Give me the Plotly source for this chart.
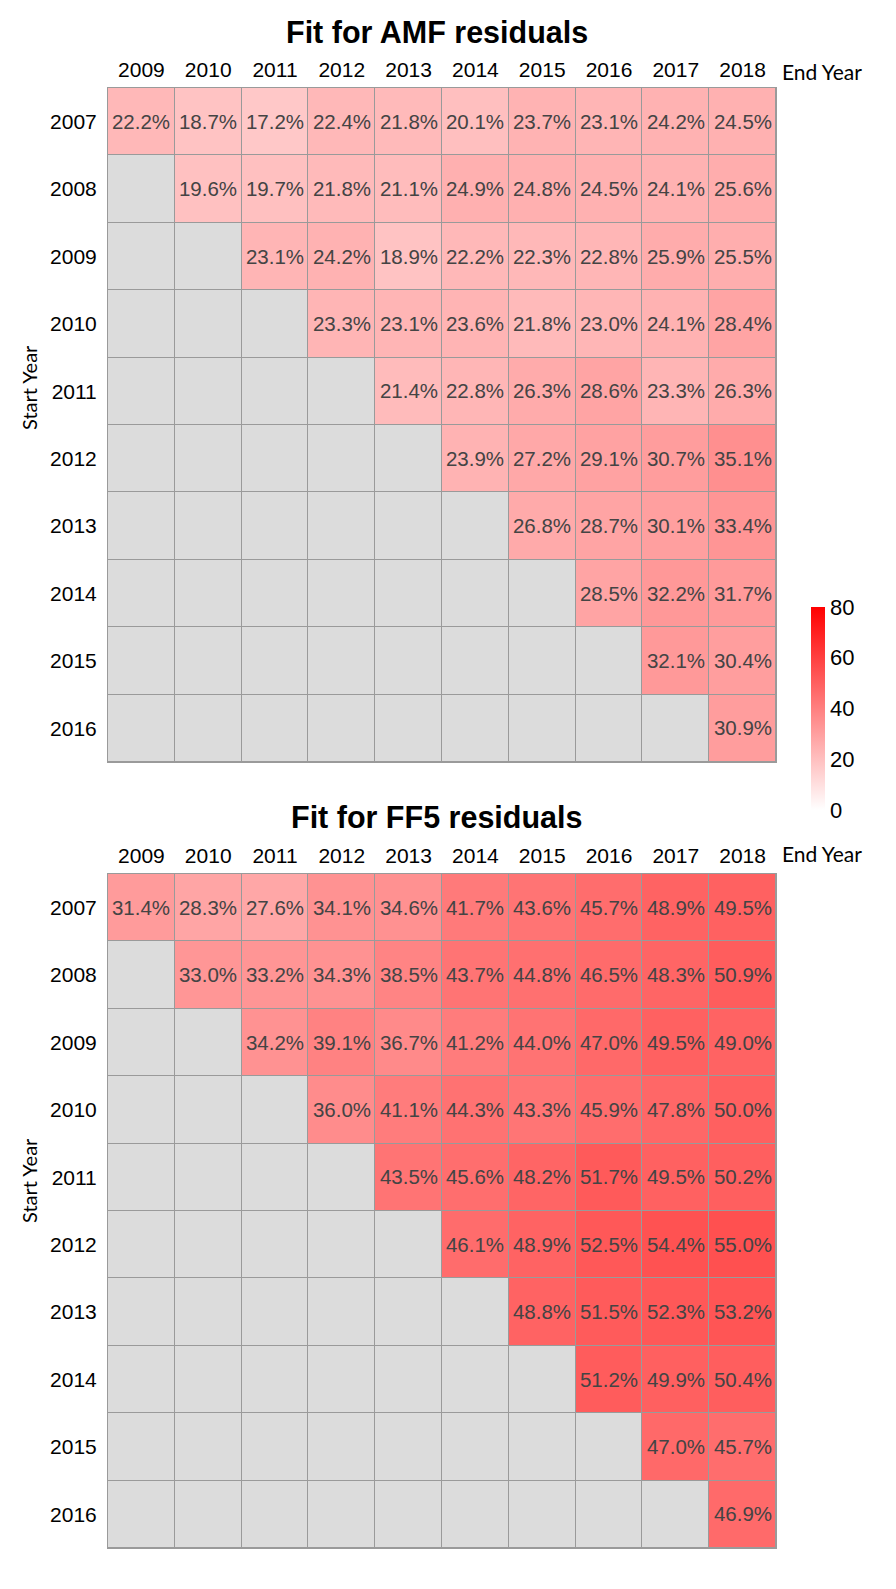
import plotly.graph_objects as go

end_years = ["2009", "2010", "2011", "2012", "2013", "2014", "2015", "2016", "2017", "2018"]
start_years = ["2007", "2008", "2009", "2010", "2011", "2012", "2013", "2014", "2015", "2016"]

N = None
amf_values = [
    [22.2, 18.7, 17.2, 22.4, 21.8, 20.1, 23.7, 23.1, 24.2, 24.5],
    [N, 19.6, 19.7, 21.8, 21.1, 24.9, 24.8, 24.5, 24.1, 25.6],
    [N, N, 23.1, 24.2, 18.9, 22.2, 22.3, 22.8, 25.9, 25.5],
    [N, N, N, 23.3, 23.1, 23.6, 21.8, 23.0, 24.1, 28.4],
    [N, N, N, N, 21.4, 22.8, 26.3, 28.6, 23.3, 26.3],
    [N, N, N, N, N, 23.9, 27.2, 29.1, 30.7, 35.1],
    [N, N, N, N, N, N, 26.8, 28.7, 30.1, 33.4],
    [N, N, N, N, N, N, N, 28.5, 32.2, 31.7],
    [N, N, N, N, N, N, N, N, 32.1, 30.4],
    [N, N, N, N, N, N, N, N, N, 30.9],
]

ff5_values = [
    [31.4, 28.3, 27.6, 34.1, 34.6, 41.7, 43.6, 45.7, 48.9, 49.5],
    [N, 33.0, 33.2, 34.3, 38.5, 43.7, 44.8, 46.5, 48.3, 50.9],
    [N, N, 34.2, 39.1, 36.7, 41.2, 44.0, 47.0, 49.5, 49.0],
    [N, N, N, 36.0, 41.1, 44.3, 43.3, 45.9, 47.8, 50.0],
    [N, N, N, N, 43.5, 45.6, 48.2, 51.7, 49.5, 50.2],
    [N, N, N, N, N, 46.1, 48.9, 52.5, 54.4, 55.0],
    [N, N, N, N, N, N, 48.8, 51.5, 52.3, 53.2],
    [N, N, N, N, N, N, N, 51.2, 49.9, 50.4],
    [N, N, N, N, N, N, N, N, 47.0, 45.7],
    [N, N, N, N, N, N, N, N, N, 46.9],
]

colorbar_ticks = [0, 20, 40, 60, 80]
titles = ["Fit for AMF residuals", "Fit for FF5 residuals"]

W, H = 896, 1589
FONT = "Liberation Sans"
LABEL_FONT = "Lato"
GRID_COLOR = "#9a9a9a"
EMPTY_COLOR = "#dcdcdc"

fig = go.Figure()


def px_x(p):
    return p / W


def px_y(p):
    return 1 - p / H


panels = [
    dict(values=amf_values, xa="x", ya="y", top=88, bottom=762, tick_y=71, sy=388, title_y=32),
    dict(values=ff5_values, xa="x2", ya="y2", top=874, bottom=1548, tick_y=854, sy=1181, title_y=817),
]

for i, p in enumerate(panels):
    vals = p["values"]
    mask = [[1 if v is None else None for v in row] for row in vals]
    texts = [["" if v is None else f"{v:.1f}%" for v in row] for row in vals]
    fig.add_trace(go.Heatmap(
        z=mask, x=end_years, y=start_years, xaxis=p["xa"], yaxis=p["ya"],
        colorscale=[[0, EMPTY_COLOR], [1, EMPTY_COLOR]], showscale=False,
        xgap=1, ygap=1, hoverinfo="skip",
    ))
    fig.add_trace(go.Heatmap(
        z=vals, x=end_years, y=start_years, xaxis=p["xa"], yaxis=p["ya"],
        coloraxis="coloraxis", xgap=1, ygap=1,
        text=texts, texttemplate="%{text}",
        textfont=dict(family=FONT, size=20.5, color="#444444"),
        hoverongaps=False,
    ))
    fig.add_annotation(
        text=f"<b>{titles[i]}</b>", xref="paper", yref="paper",
        x=px_x(437), y=px_y(p["title_y"]), xanchor="center", yanchor="middle",
        showarrow=False, font=dict(family=FONT, size=30.5, color="black"),
    )
    fig.add_annotation(
        text="End Year", xref="paper", yref="paper",
        x=px_x(780), y=px_y(p["tick_y"]), xanchor="left", yanchor="middle",
        showarrow=False, font=dict(family=LABEL_FONT, size=21, color="black"),
    )
    fig.add_annotation(
        text="Start Year", xref="paper", yref="paper",
        x=px_x(29), y=px_y(p["sy"]), xanchor="center", yanchor="middle",
        textangle=-90, showarrow=False,
        font=dict(family=LABEL_FONT, size=20, color="black"),
    )

xdom = [px_x(108), px_x(776)]
axis_common = dict(
    showgrid=False, zeroline=False, showline=True, mirror=True,
    linecolor=GRID_COLOR, linewidth=1, ticks="",
    tickfont=dict(family=FONT, size=21, color="black"), type="category",
    fixedrange=True,
)

fig.update_layout(
    width=W, height=H,
    margin=dict(l=0, r=0, t=0, b=0),
    paper_bgcolor="white", plot_bgcolor=GRID_COLOR,
    showlegend=False,
    xaxis=dict(domain=xdom, anchor="y", side="top", ticklabelstandoff=2, **axis_common),
    yaxis=dict(domain=[px_y(762), px_y(88)], anchor="x", autorange="reversed",
               ticklabelstandoff=6, **axis_common),
    xaxis2=dict(domain=xdom, anchor="y2", side="top", ticklabelstandoff=2, **axis_common),
    yaxis2=dict(domain=[px_y(1548), px_y(874)], anchor="x2", autorange="reversed",
                ticklabelstandoff=6, **axis_common),
    coloraxis=dict(
        cmin=0, cmax=80,
        colorscale=[[0, "#ffffff"], [1, "#ff0000"]],
        colorbar=dict(
            x=px_x(811), xanchor="left", xpad=0, ypad=0,
            y=px_y(708.5), yanchor="middle",
            len=203, lenmode="pixels", thickness=14, thicknessmode="pixels",
            outlinewidth=0, ticks="", tickvals=colorbar_ticks,
            tickfont=dict(family=FONT, size=22, color="black"),
        ),
    ),
)

fig.write_html(
    "out.html",
    config={"displayModeBar": False},
    post_script="document.body.style.margin='0';document.body.style.overflow='hidden';",
)
